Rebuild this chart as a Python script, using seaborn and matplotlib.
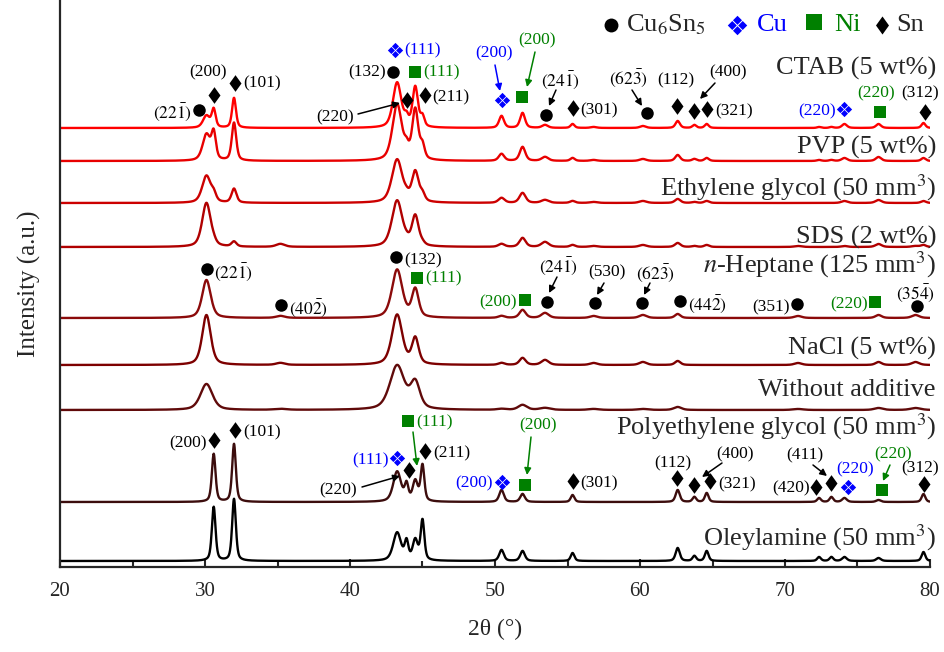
import numpy as np
import pandas as pd
import matplotlib
matplotlib.use("Agg")
import matplotlib.pyplot as plt
from matplotlib.path import Path
import seaborn as sns

# samples, top to bottom
SAMPLES = [
    'CTAB (5 wt%)', 'PVP (5 wt%)', r'Ethylene glycol (50 mm$^3$)', 'SDS (2 wt%)',
    r'$n$-Heptane (125 mm$^3$)', 'NaCl (5 wt%)', 'Without additive',
    r'Polyethylene glycol (50 mm$^3$)', r'Oleylamine (50 mm$^3$)',
]

# reflection positions (2theta, deg) and base widths (FWHM, deg)
POS = [30.1, 30.6, 32.0, 35.2, 43.25, 43.9, 44.5, 45.0, 50.45, 51.9, 53.45, 55.35,
       56.8, 60.2, 62.6, 63.75, 64.6, 70.9, 72.35, 73.2, 74.1, 76.45, 79.0, 79.55]
FWHM = [0.7, 0.4, 0.4, 0.7, 0.85, 0.4, 0.55, 0.4, 0.5, 0.5, 0.6, 0.4,
        0.6, 0.6, 0.45, 0.4, 0.4, 0.6, 0.4, 0.4, 0.5, 0.5, 0.6, 0.4]

# peak heights (a.u.), one list per sample
H_CTAB = [12, 18, 30, 0, 45, 8, 40, 10, 12, 15, 3, 4, 1, 2, 7, 3, 4, 0, 1, 1, 4, 4, 0, 5]
H_PVP = [26, 26, 38, 0, 56, 9, 50, 13, 7, 14, 4, 3, 1, 2, 6, 2, 3, 0, 1, 1, 3, 4, 0, 3]
H_EG = [27, 7, 14, 0, 43, 3, 30, 7, 5, 10, 3, 2, 1, 2, 4, 1, 2, 0, 0, 0, 2, 3, 0, 2]
H_SDS = [44, 2, 5, 3, 46, 2, 30, 2, 3, 9, 5, 2, 1, 2, 4, 1, 2, 1, 0, 0, 1, 3, 1, 2]
H_HEPT = [38, 0, 0, 2, 48, 0, 28, 0, 2, 8, 5, 0, 2, 3, 4, 0, 0, 2, 0, 0, 0, 3, 3, 0]
H_NACL = [50, 0, 0, 2, 50, 0, 26, 0, 2, 7, 5, 0, 2, 3, 4, 0, 0, 2, 0, 0, 0, 3, 3, 0]
H_NONE = [26, 0, 0, 1, 44, 0, 26, 0, 1, 5, 2, 0, 1, 1, 3, 0, 0, 1, 0, 0, 0, 2, 2, 0]
H_PEG = [0, 48, 58, 0, 30, 16, 20, 36, 12, 8, 0, 7, 0, 0, 12, 5, 9, 0, 4, 5, 4, 2, 0, 8]
H_OLEY = [0, 54, 62, 0, 28, 18, 20, 40, 11, 10, 0, 8, 0, 0, 13, 5, 10, 0, 4, 4, 4, 3, 0, 9]
HEIGHTS = [H_CTAB, H_PVP, H_EG, H_SDS, H_HEPT, H_NACL, H_NONE, H_PEG, H_OLEY]
WIDTH_SCALE = [0.8, 0.9, 1.0, 1.0, 1.0, 1.0, 1.4, 0.75, 0.75]

# stacking / styling
OFFSETS = [439, 406, 364, 320, 249, 202, 157, 65, 6]
COLORS = ['#ff0000', '#e80000', '#cc0000', '#b00000', '#8b0a0a', '#7d0000',
          '#600a0a', '#3c0d0d', '#000000']
LABEL_Y = [68, 147, 188, 237, 265, 348, 390, 427, 538]

BLUE = '#0000ff'
GREEN = '#008000'
K = 'black'


def px(x, y):
    # layout helper: picture pixel -> data coordinates
    return 20 + (x - 60) / 14.5, 567 - y


def pv(x, x0, fwhm, eta=0.5):
    d = (x - x0) / fwhm
    return eta / (1 + 4 * d ** 2) + (1 - eta) * np.exp(-4 * np.log(2) * d ** 2)


tt = np.linspace(20, 80, 3000)
frames = []
for name, h, ws, off in zip(SAMPLES, HEIGHTS, WIDTH_SCALE, OFFSETS):
    y = np.full_like(tt, off, dtype=float)
    for x0, w, a in zip(POS, FWHM, h):
        if a:
            y += a * pv(tt, x0, w * ws)
    frames.append(pd.DataFrame({'tt': tt, 'I': y, 'sample': name}))
df = pd.concat(frames, ignore_index=True)

sns.set_style('ticks')
plt.rcParams['font.family'] = ['Liberation Serif', 'DejaVu Sans']
plt.rcParams['mathtext.fontset'] = 'stix'

fig = plt.figure(figsize=(9.44, 6.52), dpi=100)
ax = fig.add_axes([60 / 944, 85 / 652, 870 / 944, 567 / 652])

sns.lineplot(data=df, x='tt', y='I', hue='sample', palette=COLORS, estimator=None,
             legend=False, lw=1.7, ax=ax)

ax.set_xlim(20, 80)
ax.set_ylim(0, 567)
ax.set_yticks([])
ax.set_xticks(range(20, 81, 10))
ax.set_xticks(range(25, 80, 10), minor=True)
ax.tick_params(axis='x', which='major', direction='in', length=6, width=1.5,
               labelsize=15, pad=11)
ax.tick_params(axis='x', which='minor', direction='in', length=4, width=1.5)
for s in ['top', 'right']:
    ax.spines[s].set_visible(False)
for s in ['left', 'bottom']:
    ax.spines[s].set_linewidth(1.6)
ax.set_xlabel('2θ (°)', fontsize=17, labelpad=13)
ax.set_ylabel('Intensity (a.u.)', fontsize=18, labelpad=14)

for name, ly in zip(SAMPLES, LABEL_Y):
    ax.text(*px(936, ly), name, fontsize=19, ha='right', va='center', clip_on=False)

# phase symbols
DIAMOND = Path([(0, 1), (0.72, 0), (0, -1), (-0.72, 0), (0, 1)])
quad = []
codes = []
for cx, cy in [(0, 0.52), (0.52, 0), (0, -0.52), (-0.52, 0)]:
    quad += [(cx, cy + 0.45), (cx + 0.45, cy), (cx, cy - 0.45), (cx - 0.45, cy), (cx, cy + 0.45)]
    codes += [Path.MOVETO, Path.LINETO, Path.LINETO, Path.LINETO, Path.CLOSEPOLY]
CROSS = Path(quad, codes)

CIRCLES = [(199, 110), (393, 72), (546, 115), (647, 113), (207, 269), (281, 305),
           (396, 257), (547, 302), (595, 303), (642, 303), (680, 301), (797, 304), (917, 306)]
DIAMONDS = [(214, 95), (235, 83), (407, 100), (425, 95), (573, 108), (677, 106), (694, 111),
            (707, 109), (925, 112), (214, 440), (235, 430), (409, 470), (425, 451), (573, 481),
            (677, 478), (694, 485), (710, 481), (816, 487), (831, 483), (924, 484)]
SQUARES = [(415, 72), (522, 97), (880, 112), (417, 278), (525, 300), (875, 302),
           (408, 421), (525, 485), (882, 490)]
CROSSES = [(395, 50), (502, 100), (844, 109), (397, 458), (502, 482), (848, 487)]


def mark(points, marker, color, ms):
    xs, ys = zip(*[px(*p) for p in points])
    ax.plot(xs, ys, ls='none', marker=marker, color=color, ms=ms, mew=0, clip_on=False)


mark(CIRCLES, 'o', K, 9)
mark(DIAMONDS, DIAMOND, K, 12)
mark(SQUARES, 's', GREEN, 9)
mark(CROSSES, CROSS, BLUE, 11)

LABELS = [
    (r'$(22\bar{1})$', 192, 112, K, 'right'), ('(200)', 208, 72, K, 'center'),
    ('(101)', 243, 83, K, 'left'), ('(132)', 386, 72, K, 'right'),
    ('(111)', 404, 50, BLUE, 'left'), ('(111)', 423, 72, GREEN, 'left'),
    ('(220)', 335, 117, K, 'center'), ('(211)', 432, 97, K, 'left'),
    ('(200)', 494, 53, BLUE, 'center'), ('(200)', 537, 40, GREEN, 'center'),
    (r'$(24\bar{1})$', 560, 80, K, 'center'), ('(301)', 580, 110, K, 'left'),
    (r'$(62\bar{3})$', 628, 78, K, 'center'), ('(112)', 676, 80, K, 'center'),
    ('(321)', 715, 111, K, 'left'), ('(400)', 728, 72, K, 'center'),
    ('(220)', 836, 111, BLUE, 'right'), ('(220)', 876, 93, GREEN, 'center'),
    ('(312)', 920, 93, K, 'center'),
    (r'$(22\bar{1})$', 214, 272, K, 'left'), (r'$(40\bar{2})$', 289, 308, K, 'left'),
    ('(132)', 404, 260, K, 'left'), ('(111)', 425, 278, GREEN, 'left'),
    ('(200)', 517, 302, GREEN, 'right'), (r'$(24\bar{1})$', 558, 266, K, 'center'),
    ('(530)', 607, 272, K, 'center'), (r'$(62\bar{3})$', 655, 273, K, 'center'),
    (r'$(44\bar{2})$', 688, 304, K, 'left'), ('(351)', 790, 307, K, 'right'),
    ('(220)', 868, 304, GREEN, 'right'), (r'$(35\bar{4})$', 915, 293, K, 'center'),
    ('(200)', 207, 443, K, 'right'), ('(101)', 243, 432, K, 'left'),
    ('(111)', 389, 460, BLUE, 'right'), ('(111)', 416, 422, GREEN, 'left'),
    ('(220)', 338, 490, K, 'center'), ('(211)', 433, 453, K, 'left'),
    ('(200)', 493, 483, BLUE, 'right'), ('(200)', 538, 425, GREEN, 'center'),
    ('(301)', 580, 483, K, 'left'), ('(112)', 673, 463, K, 'center'),
    ('(321)', 718, 484, K, 'left'), ('(400)', 735, 454, K, 'center'),
    ('(420)', 810, 488, K, 'right'), ('(411)', 805, 455, K, 'center'),
    ('(220)', 855, 469, BLUE, 'center'), ('(220)', 893, 454, GREEN, 'center'),
    ('(312)', 920, 468, K, 'center'),
]
for txt, x, y, c, ha in LABELS:
    ax.text(*px(x, y), txt, fontsize=12.5, color=c, ha=ha, va='center', clip_on=False)

ARROWS = [
    ((358, 114), (400, 103), K), ((495, 65), (500, 91), BLUE), ((535, 52), (527, 87), GREEN),
    ((556, 90), (549, 106), K), ((632, 90), (642, 106), K), ((715, 83), (700, 99), K),
    ((557, 277), (549, 293), K), ((604, 283), (597, 295), K), ((650, 283), (644, 295), K),
    ((413, 432), (417, 466), GREEN), ((362, 487), (400, 476), K), ((531, 437), (527, 475), GREEN),
    ((722, 463), (702, 477), K), ((813, 465), (827, 476), K), ((890, 465), (883, 481), GREEN),
]
for p0, p1, c in ARROWS:
    ax.annotate('', xy=px(*p1), xytext=px(*p0), annotation_clip=False,
                arrowprops=dict(arrowstyle='-|>', color=c, lw=1.1, mutation_scale=10,
                                shrinkA=0, shrinkB=0))

# phase key at the top
ax.plot(*px(611, 25), marker='o', color=K, ms=10, mew=0, clip_on=False)
ax.text(*px(626, 25), r'Cu$_6$Sn$_5$', fontsize=19, va='center', clip_on=False)
ax.plot(*px(737, 25), marker=CROSS, color=BLUE, ms=14, mew=0, clip_on=False)
ax.text(*px(757, 25), 'Cu', fontsize=19, color=BLUE, va='center', clip_on=False)
ax.plot(*px(814, 22), marker='s', color=GREEN, ms=11, mew=0, clip_on=False)
ax.text(*px(834, 25), 'Ni', fontsize=19, color=GREEN, va='center', clip_on=False)
ax.plot(*px(882, 25), marker=DIAMOND, color=K, ms=13, mew=0, clip_on=False)
ax.text(*px(896, 25), 'Sn', fontsize=19, va='center', clip_on=False)

fig.savefig('out.png', dpi=100)
